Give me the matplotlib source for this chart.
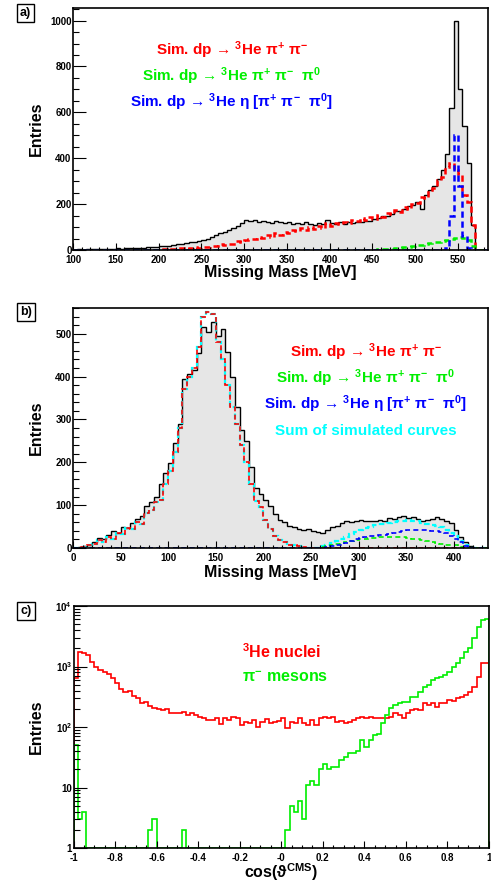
import numpy as np
import matplotlib
matplotlib.use("Agg")
import matplotlib.pyplot as plt
from matplotlib.ticker import MultipleLocator, FixedLocator, FixedFormatter, LogLocator, NullFormatter

plt.rcParams["font.family"] = ["Liberation Sans", "DejaVu Sans"]
plt.rcParams["font.weight"] = "bold"
plt.rcParams["axes.labelweight"] = "bold"
plt.rcParams["mathtext.fontset"] = "custom"
plt.rcParams["mathtext.rm"] = "Liberation Sans:bold"
plt.rcParams["mathtext.it"] = "Liberation Sans:bold"
plt.rcParams["mathtext.bf"] = "Liberation Sans:bold"

# ---- panel a: missing mass, 5 MeV bins from 100 MeV ----
a_start, a_width = 100, 5
a_data = [2, 3, 2, 3, 4, 3, 4, 5, 4, 6,
          10, 6, 7, 8, 8, 10, 10, 12, 13, 12,
          16, 17, 19, 21, 24, 27, 30, 34, 36, 40,
          44, 50, 56, 64, 72, 80, 88, 96, 104, 116,
          132, 126, 130, 122, 128, 124, 118, 126, 120, 116,
          122, 114, 118, 112, 120, 114, 110, 116, 112, 130,
          118, 114, 120, 112, 122, 118, 124, 120, 128, 126,
          136, 140, 148, 150, 158, 168, 172, 178, 190, 196,
          210, 180, 240, 260, 280, 310, 350, 420, 620, 1000,
          700, 540, 380, 110, 0, 0, 0]
a_pipi = [0] * 20 + [
          2, 3, 2, 5, 4, 7, 6, 9, 12, 10,
          14, 12, 18, 16, 24, 20, 28, 26, 38, 36,
          44, 50, 46, 58, 54, 66, 58, 72, 66, 78,
          76, 88, 82, 94, 88, 102, 92, 106, 98, 116,
          104, 118, 112, 124, 116, 132, 126, 140, 130, 146,
          136, 152, 144, 160, 156, 174, 166, 186, 180, 200,
          206, 232, 226, 262, 270, 306, 320, 362, 380, 350,
          330, 240, 210, 110, 0, 0, 0]
a_pipipi0 = [0] * 70 + [
          2, 3, 4, 5, 6, 8, 10, 12, 15, 17,
          20, 22, 26, 30, 33, 36, 40, 44, 48, 54,
          58, 54, 44, 16, 0, 0, 0]
a_eta = [0] * 80 + [0, 0, 0, 0, 0, 0, 0, 10, 150, 500,
                    280, 60, 10, 0, 0, 0, 0]

# ---- panel b: missing mass, 5 MeV bins from 0 MeV ----
b_start, b_width = 0, 5
b_data = [1, 3, 5, 8, 14, 24, 22, 30, 40, 36,
          48, 46, 58, 68, 74, 98, 108, 118, 150, 176,
          198, 245, 290, 395, 405, 415, 455, 515, 505, 528,
          495, 512, 458, 400, 330, 275, 250, 190, 140, 125,
          112, 98, 80, 66, 60, 52, 48, 44, 42, 44,
          40, 38, 36, 42, 48, 52, 58, 64, 60, 62,
          66, 62, 64, 62, 66, 64, 70, 68, 72, 74,
          70, 72, 68, 64, 66, 68, 72, 68, 62, 58,
          42, 26, 14, 4, 0, 0, 0]
b_pipi = [0, 3, 2, 7, 9, 18, 14, 26, 22, 36,
          32, 46, 44, 60, 56, 82, 88, 108, 112, 150,
          180, 225, 280, 370, 400, 420, 470, 540, 550, 545,
          480, 440, 380, 330, 290, 240, 200, 150, 110, 95,
          65, 45, 28, 18, 14, 8, 6, 4, 2, 1] + [0] * 37
b_pipipi0 = [0] * 51 + [
          1, 3, 5, 8, 10, 12, 14, 16, 18, 20,
          22, 23, 24, 25, 26, 26, 26, 26, 25, 24,
          22, 20, 18, 16, 14, 12, 10, 8, 7, 6,
          3, 1, 0, 0, 0, 0]
b_eta = [0] * 52 + [
          1, 2, 4, 6, 8, 12, 16, 20, 23, 25,
          27, 29, 30, 31, 33, 35, 37, 39, 41, 42,
          42, 41, 41, 40, 40, 38, 34, 28, 22, 14,
          5, 1, 0, 0, 0]
b_sum = np.array(b_pipi) + np.array(b_pipipi0) + np.array(b_eta)

# ---- panel c: cos(theta_CMS), 100 bins from -1 to 1 ----
c_he3 = [640, 1760, 1650, 1550, 1200, 980, 870, 820, 760, 640,
         530, 420, 383, 400, 325, 297, 253, 262, 222, 210,
         200, 190, 200, 168, 168, 172, 176, 158, 168, 155,
         148, 139, 130, 130, 139, 114, 139, 130, 148, 139,
         108, 122, 115, 130, 100, 122, 134, 115, 122, 125,
         139, 95, 122, 118, 139, 115, 108, 130, 108, 139,
         148, 139, 148, 122, 127, 115, 122, 130, 139, 148,
         139, 148, 142, 139, 139, 139, 148, 168, 158, 139,
         172, 190, 200, 190, 245, 232, 245, 216, 245, 250,
         279, 265, 297, 315, 336, 383, 460, 680, 1130, 1130]
c_pim = [50, 3, 4] + [0] * 15 + [2, 3] + [0] * 6 + [2] + [0] * 24 + [
         2, 5, 4, 6, 3, 11, 13, 11, 20,
         24, 20, 22, 22, 29, 32, 37, 37, 40, 61,
         47, 61, 73, 78, 115, 158, 203, 230, 245, 262,
         262, 315, 315, 383, 460, 490, 600, 640, 680, 720,
         820, 1000, 1130, 1370, 1760, 2000, 2930, 4570, 5900, 6000]

a_edges = a_start + a_width * np.arange(len(a_data) + 1)
b_edges = b_start + b_width * np.arange(len(b_data) + 1)
c_edges = np.linspace(-1, 1, len(c_he3) + 1)

W, H = 491, 884
fig = plt.figure(figsize=(W / 100, H / 100), dpi=100)
fig.patch.set_facecolor("white")


def axes_px(left, top, right, bottom):
    return fig.add_axes([left / W, 1 - bottom / H, (right - left) / W, (bottom - top) / H])


def ftext(x, y, s, color="black", size=11, ha="center", **kw):
    return fig.text(x / W, 1 - y / H, s, color=color, fontsize=size, ha=ha, va="center",
                    fontweight="bold", **kw)


def style(ax):
    for sp in ax.spines.values():
        sp.set_linewidth(1.2)
    ax.tick_params(which="both", direction="in", top=False, right=False, labelsize=7, width=0.8)
    ax.tick_params(axis="y", which="major", length=9, pad=1)
    ax.tick_params(axis="y", which="minor", length=4.5)
    ax.tick_params(axis="x", which="major", length=5, pad=3.5)
    ax.tick_params(axis="x", which="minor", length=2.5)


RED, GREEN, BLUE, CYAN = "#ff0000", "#00ee00", "#0000ff", "#00ffff"
FILL = "#e6e6e6"
ARROW = "\u2192"

# panel a
axa = axes_px(73, 8, 488, 250)
axa.stairs(a_data, a_edges, fill=True, color=FILL)
axa.stairs(a_data, a_edges, color="black", lw=1)
axa.stairs(a_pipi, a_edges, color=RED, lw=1.8, ls=(0, (2.5, 1.5)))
axa.stairs(a_pipipi0, a_edges, color=GREEN, lw=1.8, ls=(0, (2.5, 1.5)))
axa.stairs(a_eta, a_edges, color=BLUE, lw=1.8, ls=(0, (2.5, 1.5)))
axa.set_xlim(100, 585)
axa.set_ylim(0, 1055)
axa.xaxis.set_major_locator(MultipleLocator(50))
axa.xaxis.set_minor_locator(MultipleLocator(10))
axa.yaxis.set_major_locator(MultipleLocator(200))
axa.yaxis.set_minor_locator(MultipleLocator(50))
style(axa)
axa.set_xlabel("Missing Mass [MeV]", fontsize=11.5, va="center")
axa.xaxis.set_label_coords(0.5, -0.093)
axa.set_ylabel("Entries", fontsize=11.5, va="center")
axa.yaxis.set_label_coords(-0.089, 0.5)

lab_pipi = "Sim. dp " + ARROW + r" $^{3}$He $\pi^{+}$ $\pi^{-}$"
lab_pipipi0 = "Sim. dp " + ARROW + r" $^{3}$He $\pi^{+}$ $\pi^{-}$  $\pi^{0}$"
lab_eta = "Sim. dp " + ARROW + r" $^{3}$He $\eta$ [$\pi^{+}$ $\pi^{-}$  $\pi^{0}$]"

ftext(232, 50, lab_pipi, RED)
ftext(232, 76, lab_pipipi0, GREEN)
ftext(232, 102, lab_eta, BLUE)

# panel b
axb = axes_px(73, 308, 488, 548)
axb.stairs(b_data, b_edges, fill=True, color=FILL)
axb.stairs(b_data, b_edges, color="black", lw=1)
axb.stairs(b_sum, b_edges, color=CYAN, lw=1.6, ls=(0, (2.5, 1.5)))
axb.stairs(b_pipi, b_edges, color=RED, lw=1.2, ls=(0, (3, 2)))
axb.stairs(b_pipipi0, b_edges, color=GREEN, lw=1.2, ls=(0, (3, 2)))
axb.stairs(b_eta, b_edges, color=BLUE, lw=1.2, ls=(0, (3, 2)))
axb.set_xlim(0, 436)
axb.set_ylim(0, 560)
axb.xaxis.set_major_locator(MultipleLocator(50))
axb.xaxis.set_minor_locator(MultipleLocator(10))
axb.yaxis.set_major_locator(MultipleLocator(100))
axb.yaxis.set_minor_locator(MultipleLocator(20))
style(axb)
axb.set_xlabel("Missing Mass [MeV]", fontsize=11.5, va="center")
axb.xaxis.set_label_coords(0.5, -0.1)
axb.set_ylabel("Entries", fontsize=11.5, va="center")
axb.yaxis.set_label_coords(-0.089, 0.5)

ftext(366, 352, lab_pipi, RED)
ftext(366, 378, lab_pipipi0, GREEN)
ftext(366, 404, lab_eta, BLUE)
ftext(366, 431, "Sum of simulated curves", CYAN)

# panel c
axc = axes_px(73.5, 606, 489, 848)
axc.set_yscale("log")
axc.stairs(np.maximum(c_he3, 1), c_edges, baseline=1, color=RED, lw=1.2)
axc.stairs(np.maximum(c_pim, 1), c_edges, baseline=1, color=GREEN, lw=1.2)
axc.set_xlim(-1, 1)
axc.set_ylim(1, 1e4)
cx_ticks = np.linspace(-1, 1, 11)
axc.xaxis.set_major_locator(FixedLocator(cx_ticks))
axc.xaxis.set_major_formatter(FixedFormatter(["-1", "-0.8", "-0.6", "-0.4", "-0.2", "-0",
                                              "0.2", "0.4", "0.6", "0.8", "1"]))
axc.xaxis.set_minor_locator(MultipleLocator(0.05))
axc.yaxis.set_major_locator(FixedLocator([1, 10, 100, 1000, 10000]))
axc.yaxis.set_major_formatter(FixedFormatter(["1", "10", r"10$^{2}$", r"10$^{3}$", r"10$^{4}$"]))
axc.yaxis.set_minor_locator(LogLocator(base=10, subs=np.arange(2, 10)))
axc.yaxis.set_minor_formatter(NullFormatter())
style(axc)
axc.set_xlabel("cos(\u03d1" + r"$^{\mathrm{CMS}}$" + ")", fontsize=11.5, va="center")
axc.xaxis.set_label_coords(0.5, -0.1)
axc.set_ylabel("Entries", fontsize=11.5, va="center")
axc.yaxis.set_label_coords(-0.089, 0.5)

ftext(242, 652, r"$^{3}$He nuclei", RED, ha="left", size=11.5)
ftext(242, 678, r"$\pi^{-}$ mesons", GREEN, ha="left", size=11.5)

# panel tags
box = dict(boxstyle="square,pad=0.25", fc="white", ec="black", lw=1)
ftext(25.5, 13, "a)", size=9, bbox=box)
ftext(26, 312, "b)", size=9, bbox=box)
ftext(26, 611, "c)", size=9, bbox=box)

fig.savefig("out.png", dpi=100)
